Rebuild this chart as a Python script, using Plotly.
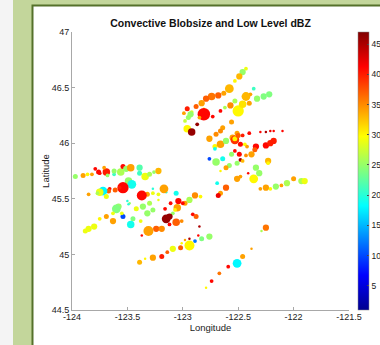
import plotly.graph_objects as go

# Blob data: longitude, latitude, blob size (marker diameter scale), low level dBZ
lon = [
 -122.43,-122.46,-122.49,-122.53,-122.58,-122.63,-122.68,-122.74,-122.79,-122.83,-122.88,-122.81,-122.96,-122.99,-122.92,-122.93,-122.95,-122.98,-122.81,-122.85,-122.73,-122.87,-122.96,-122.92,
 -122.36,-122.39,-122.43,-122.33,-122.27,-122.22,-122.50,-122.46,-122.40,-122.53,-122.57,-122.62,-122.66,
 -122.56,-122.64,-122.66,-122.70,-122.76,-122.71,-122.71,-122.66,-122.61,-122.55,-122.53,-122.53,-122.51,-122.50,-122.46,-122.40,-122.30,-122.25,-122.21,-122.18,-122.10,
 -122.44,-122.42,-122.48,-122.34,-122.35,-122.38,-122.49,-122.53,-122.43,-122.48,-122.51,-122.46,-122.25,-122.21,-122.18,
 -122.76,-122.70,-122.64,-122.56,-122.58,-122.61,-122.66,-122.23,-122.23,-122.34,-122.31,-122.36,-122.41,-122.51,-122.48,
 -122.69,-122.61,-122.66,-122.68,-122.00,-122.06,-122.11,-122.16,-122.21,-122.25,-122.30,-121.93,-121.90,-122.84,
 -122.25,-122.29,-122.38,-122.46,-122.51,-122.59,-122.67,-122.74,-122.79,
 -122.76,-122.83,-122.86,-122.89,-122.94,-122.94,-122.98,-123.01,-123.02,-123.09,-123.14,-123.19,-123.27,-123.34,-123.39,
 -122.89,-122.94,-122.98,-123.04,-123.00,-123.05,-123.07,-123.11,-123.16,-123.09,-123.12,-123.15,-123.12,-123.06,-123.01,-122.91,-122.88,-122.85,
 -123.06,-123.15,-123.17,-123.22,-123.27,-123.27,-123.32,-123.37,-123.22,-123.30,-123.36,-123.42,-123.48,-123.50,-123.49,
 -123.27,-123.32,-123.38,-123.45,-123.47,-123.54,-123.55,-123.58,-123.60,-123.63,-123.63,-123.69,-123.75,-123.80,-123.85,-123.88,
 -123.31,-123.24,-123.19,-123.37,
 -123.97,-123.90,-123.86,-123.82,-123.79,-123.76,-123.75,-123.69,-123.71,-123.68,-123.62,-123.62,-123.56,-123.54,-123.51,-123.47,-123.39,-123.39,-123.34,-123.30,-123.26,-123.22,
 -123.49,-123.46,-123.54,-123.57,-123.61,-123.66,-123.67,-123.72,-123.75,-123.77,-123.69,-123.85,
]
lat = [
 46.67,46.64,46.60,46.56,46.49,46.45,46.43,46.42,46.40,46.36,46.33,46.31,46.31,46.27,46.28,46.26,46.23,46.20,46.26,46.23,46.24,46.17,46.13,46.10,
 46.49,46.44,46.42,46.40,46.42,46.44,46.29,46.35,46.36,46.38,46.34,46.32,46.29,
 46.19,46.14,46.11,46.08,46.04,45.97,45.95,45.99,46.02,46.05,46.03,46.04,46.09,46.07,46.07,46.09,46.10,46.10,46.11,46.11,46.11,
 45.99,45.97,45.99,45.97,45.94,45.90,45.90,45.93,45.89,45.85,45.82,45.84,45.98,46.00,46.02,
 45.86,45.83,45.86,45.90,45.80,45.78,45.75,45.84,45.82,45.78,45.73,45.68,45.73,45.68,45.70,
 45.64,45.60,45.55,45.53,45.68,45.64,45.62,45.61,45.59,45.60,45.59,45.66,45.66,45.52,
 45.24,45.21,45.05,44.98,44.92,44.89,44.83,44.76,44.70,
 45.16,45.14,45.17,45.12,45.08,45.14,45.13,45.10,45.06,45.05,45.02,44.98,44.97,44.96,44.93,
 45.53,45.49,45.46,45.48,45.46,45.42,45.40,45.46,45.41,45.37,45.34,45.32,45.27,45.29,45.30,45.36,45.34,45.25,
 45.55,45.56,45.59,45.54,45.55,45.59,45.54,45.53,45.49,45.46,45.43,45.41,45.46,45.48,45.45,
 45.40,45.37,45.30,45.32,45.27,45.34,45.37,45.43,45.41,45.37,45.30,45.34,45.32,45.25,45.23,45.21,
 45.21,45.23,45.23,45.17,
 45.70,45.71,45.72,45.72,45.77,45.74,45.73,45.74,45.78,45.71,45.72,45.75,45.74,45.79,45.77,45.78,45.78,45.73,45.70,45.72,45.74,45.75,
 45.66,45.63,45.60,45.60,45.58,45.59,45.57,45.57,45.56,45.55,45.52,45.54,
]
blobsize = [
 3,5,5,3,7,4,5,6,5,5,4,2,4,3,3,5,4,3,10,3,3,3,6,6,
 3,3,7,5,5,5,9,6,4,4,5,3,3,
 4,4,4,4,5,4,3,6,5,5,7,4,4,4,3,3,2,2,2,2,2,
 3,3,4,5,4,5,4,3,3,3,4,3,5,5,5,
 3,6,4,4,4,4,2,5,3,5,5,7,2,5,3,
 3,5,4,4,4,5,3,5,3,5,3,5,5,3,
 5,2,2,4,7,3,3,3,2,
 5,4,2,3,8,2,2,2,4,5,3,4,5,2,4,
 5,5,4,5,3,6,3,3,3,3,5,7,3,6,3,3,4,2,
 4,2,7,3,3,2,4,8,2,4,5,4,2,2,2,
 4,5,3,4,6,4,3,5,7,3,5,4,3,5,5,4,
 8,5,5,2,
 4,4,3,3,3,4,3,6,3,3,3,4,6,4,5,6,5,4,6,4,3,5,
 6,7,9,3,4,3,4,7,6,3,4,3,
]
dbz = [
 29,25,33,30,33,34,37,36,37,34,37,30,40,34,28,25,25,27,41,34,41,46,30,46,
 21,34,33,25,24,24,30,31,34,26,35,26,41,
 34,34,35,35,34,30,19,34,25,34,39,30,34,37,40,41,41,45,42,41,41,
 30,34,41,41,37,34,41,41,35,45,25,33,41,40,40,
 10,25,19,25,25,34,30,33,30,25,25,30,41,34,34,
 19,37,34,42,34,26,34,25,30,34,34,26,29,30,
 36,26,34,34,18,41,36,41,30,
 25,24,41,12,30,45,34,30,37,29,37,40,34,30,33,
 35,26,34,41,41,34,30,41,41,25,46,46,41,37,35,41,37,45,
 19,20,34,29,29,20,34,41,29,26,25,29,25,20,20,
 25,25,29,24,19,10,29,25,24,29,34,34,30,29,29,29,
 34,37,35,41,
 25,34,30,34,41,41,41,40,34,25,21,25,26,41,25,34,22,21,29,26,25,33,
 25,19,41,40,37,41,37,18,29,26,29,34,
]

x_ticks = [-124, -123.5, -123, -122.5, -122, -121.5]
x_ticklabels = ["-124", "-123.5", "-123", "-122.5", "-122", "-121.5"]
y_ticks = [44.5, 45, 45.5, 46, 46.5, 47]
y_ticklabels = ["44.5", "45", "45.5", "46", "46.5", "47"]
cbar_ticks = [5, 10, 15, 20, 25, 30, 35, 40, 45]

jet = [
    [0.0, "rgb(0,0,143)"], [0.125, "rgb(0,0,255)"], [0.375, "rgb(0,255,255)"],
    [0.625, "rgb(255,255,0)"], [0.875, "rgb(255,0,0)"], [1.0, "rgb(128,0,0)"],
]

FONT = "Liberation Sans, Arial, sans-serif"

fig = go.Figure(go.Scatter(
    x=lon, y=lat, mode="markers",
    marker=dict(
        size=[s * 1.25 for s in blobsize],
        color=dbz, colorscale=jet, cmin=1, cmax=47,
        line=dict(width=0), opacity=1,
        colorbar=dict(
            x=1.031, xanchor="left", xref="paper", y=0.5, yanchor="middle",
            len=1.0, lenmode="fraction", thickness=11, thicknessmode="pixels",
            tickvals=cbar_ticks, ticks="inside", ticklen=2, tickcolor="#444",
            outlinewidth=0.5, outlinecolor="#888",
            tickfont=dict(family=FONT, size=8.5, color="#222"),
            ypad=0, xpad=0,
        ),
    ),
    showlegend=False,
))

fig.update_layout(
    width=380, height=345,
    margin=dict(l=72, r=31, t=32, b=35, autoexpand=False),
    paper_bgcolor="#c3d69b",
    plot_bgcolor="white",
    title=dict(text="<b>Convective Blobsize and Low Level dBZ</b>", x=0.5, xref="paper",
               y=1 - 23 / 345, yanchor="middle",
               font=dict(family=FONT, size=10.5, color="#111")),
    shapes=[
        dict(type="rect", xref="paper", yref="paper", x0=-0.3, x1=-0.213, y0=-0.5, y1=1.5,
             fillcolor="#f4f4f4", line=dict(width=0), layer="below"),
        dict(type="rect", xref="paper", yref="paper", x0=-0.1426, x1=1.5, y0=-0.5, y1=1.0953,
             fillcolor="white", line=dict(width=2, color="#55712b"), layer="below"),
    ],
)
fig.update_xaxes(
    range=[-124, -121.5], tickvals=x_ticks, ticktext=x_ticklabels,
    showline=True, linecolor="#a8a8a8", linewidth=1, mirror=False, automargin=False,
    ticks="inside", ticklen=3, tickcolor="#a8a8a8", showgrid=False, zeroline=False,
    ticklabelstandoff=-2,
    tickfont=dict(family=FONT, size=9, color="#222"),
    title=dict(text="Longitude", font=dict(family=FONT, size=9.5, color="#222"), standoff=0),
)
fig.update_yaxes(
    range=[44.5, 47], tickvals=y_ticks, ticktext=y_ticklabels,
    showline=True, linecolor="#a8a8a8", linewidth=1, mirror=False, automargin=False,
    ticks="inside", ticklen=3, tickcolor="#a8a8a8", showgrid=False, zeroline=False,
    tickfont=dict(family=FONT, size=9, color="#222"),
    title=dict(text="Latitude", font=dict(family=FONT, size=9.5, color="#222"), standoff=0),
)

fig.write_html("out.html", config={"displayModeBar": False},
               post_script="document.body.style.margin='0';document.body.style.padding='0';")
